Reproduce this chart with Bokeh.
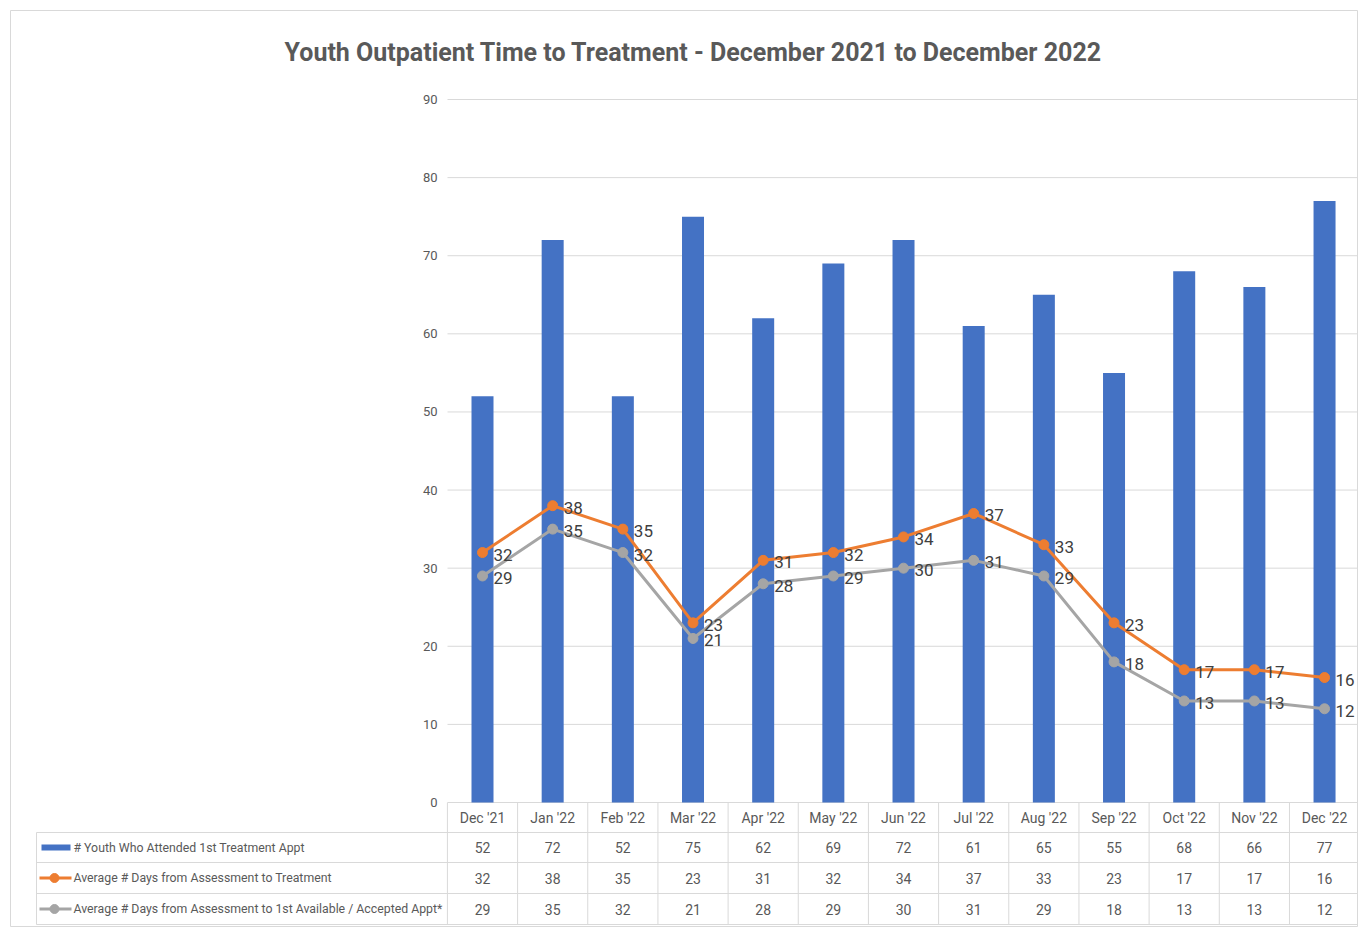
from bokeh.plotting import figure
from bokeh.models import Range1d
from bokeh.core.properties import value
from bokeh.embed import file_html
from bokeh.resources import INLINE

# ---------------- data ----------------
months = ["Dec '21", "Jan '22", "Feb '22", "Mar '22", "Apr '22", "May '22", "Jun '22",
          "Jul '22", "Aug '22", "Sep '22", "Oct '22", "Nov '22", "Dec '22"]
youth_attended = [52, 72, 52, 75, 62, 69, 72, 61, 65, 55, 68, 66, 77]
avg_days_to_treatment = [32, 38, 35, 23, 31, 32, 34, 37, 33, 23, 17, 17, 16]
avg_days_to_first_available = [29, 35, 32, 21, 28, 29, 30, 31, 29, 18, 13, 13, 12]
series_names = [
    "# Youth Who Attended 1st Treatment Appt",
    "Average # Days from Assessment to Treatment",
    "Average # Days from Assessment to 1st Available / Accepted Appt*",
]
y_ticks = [0, 10, 20, 30, 40, 50, 60, 70, 80, 90]
title_text = "Youth Outpatient Time to Treatment - December 2021 to December 2022"

# ---------------- layout helpers (canvas pixels -> data units) ----------------
W, H = 1358, 927
X_C0 = 482.0      # canvas x of first category centre
DX = 70.17        # pixels per category
Y_0 = 802.0       # canvas y of value 0
DY = 7.811        # pixels per value unit


def dx(px):
    return (px - X_C0) / DX


def dy(py):
    return (Y_0 - py) / DY


FONT = "Roboto, 'Liberation Sans', sans-serif"
BLUE = "#4472C4"
ORANGE = "#ED7D31"
GRAY = "#A5A5A5"
GRID = "#d9d9d9"
TXT = "#595959"
LBL = "#404040"

xs = list(range(len(months)))

p = figure(width=W, height=H,
           x_range=Range1d(dx(10), dx(W)), y_range=Range1d(dy(H), dy(10)),
           min_border_left=10, min_border_top=10, min_border_right=0, min_border_bottom=0,
           x_axis_location=None, y_axis_location=None,
           output_backend="svg", toolbar_location=None)
p.grid.visible = False
p.outline_line_color = GRID
p.background_fill_color = "white"

# title
p.text(x=[dx(693)], y=[dy(52)], text=[title_text], text_align="center", text_baseline="middle",
       text_font=value(FONT), text_font_style="bold", text_font_size="25px", text_color=TXT)

# gridlines
p.segment(x0=[dx(447)] * len(y_ticks), x1=[dx(1400)] * len(y_ticks), y0=y_ticks, y1=y_ticks,
          line_color=GRID, line_width=1)
# y tick labels
p.text(x=[dx(437)] * len(y_ticks), y=y_ticks, text=[str(t) for t in y_ticks],
       text_align="right", text_baseline="middle", text_font=value(FONT),
       text_font_size="13px", text_color=TXT)

# bars
p.vbar(x=xs, top=youth_attended, bottom=0, width=22 / DX, fill_color=BLUE, line_color=None)

# lines
p.line(xs, avg_days_to_treatment, line_color=ORANGE, line_width=3)
p.scatter(xs, avg_days_to_treatment, marker="circle", size=10, fill_color=ORANGE, line_color=ORANGE)
p.line(xs, avg_days_to_first_available, line_color=GRAY, line_width=3)
p.scatter(xs, avg_days_to_first_available, marker="circle", size=10, fill_color=GRAY, line_color=GRAY)

# data labels
for vals in (avg_days_to_treatment, avg_days_to_first_available):
    p.text(x=xs, y=vals, text=[str(v) for v in vals], x_offset=11, y_offset=2,
           text_align="left", text_baseline="middle", text_font=value(FONT),
           text_font_size="17px", text_color=LBL)

# ---------------- data table ----------------
row_edges = [802, 832, 862, 893, 924]
row_centres = [(row_edges[i] + row_edges[i + 1]) / 2 for i in range(4)]

# horizontal borders
for e in row_edges[1:]:
    p.segment(x0=[dx(36)], x1=[dx(1400)], y0=[dy(e)], y1=[dy(e)], line_color=GRID, line_width=1)
# vertical borders between categories
vx = [i - 0.5 for i in range(len(months) + 1)]
p.segment(x0=vx, x1=vx, y0=[dy(row_edges[0])] * len(vx), y1=[dy(row_edges[-1])] * len(vx),
          line_color=GRID, line_width=1)
# legend column left border
p.segment(x0=[dx(36)], x1=[dx(36)], y0=[dy(row_edges[1])], y1=[dy(row_edges[-1])],
          line_color=GRID, line_width=1)

# header (category labels)
p.text(x=xs, y=[dy(row_centres[0])] * len(xs), text=months, text_align="center",
       text_baseline="middle", text_font=value(FONT), text_font_size="14px", text_color=TXT)
# values
for r, vals in enumerate((youth_attended, avg_days_to_treatment, avg_days_to_first_available)):
    p.text(x=xs, y=[dy(row_centres[r + 1])] * len(xs), text=[str(v) for v in vals],
           text_align="center", text_baseline="middle", text_font=value(FONT),
           text_font_size="14px", text_color=TXT)

# legend keys
yc1, yc2, yc3 = (dy(c) for c in row_centres[1:])
p.quad(left=[dx(41)], right=[dx(70)], top=[dy(row_centres[1] - 3)], bottom=[dy(row_centres[1] + 3)],
       fill_color=BLUE, line_color=None)
p.line([dx(39), dx(71)], [yc2, yc2], line_color=ORANGE, line_width=3)
p.scatter([dx(54)], [yc2], marker="circle", size=9, fill_color=ORANGE, line_color=ORANGE)
p.line([dx(39), dx(71)], [yc3, yc3], line_color=GRAY, line_width=3)
p.scatter([dx(54)], [yc3], marker="circle", size=9, fill_color=GRAY, line_color=GRAY)

p.text(x=[dx(73)] * 3, y=[yc1, yc2, yc3], text=series_names, text_align="left",
       text_baseline="middle", text_font=value(FONT), text_font_size="12.3px", text_color=TXT)

open("out.html", "w").write(file_html(p, INLINE))
